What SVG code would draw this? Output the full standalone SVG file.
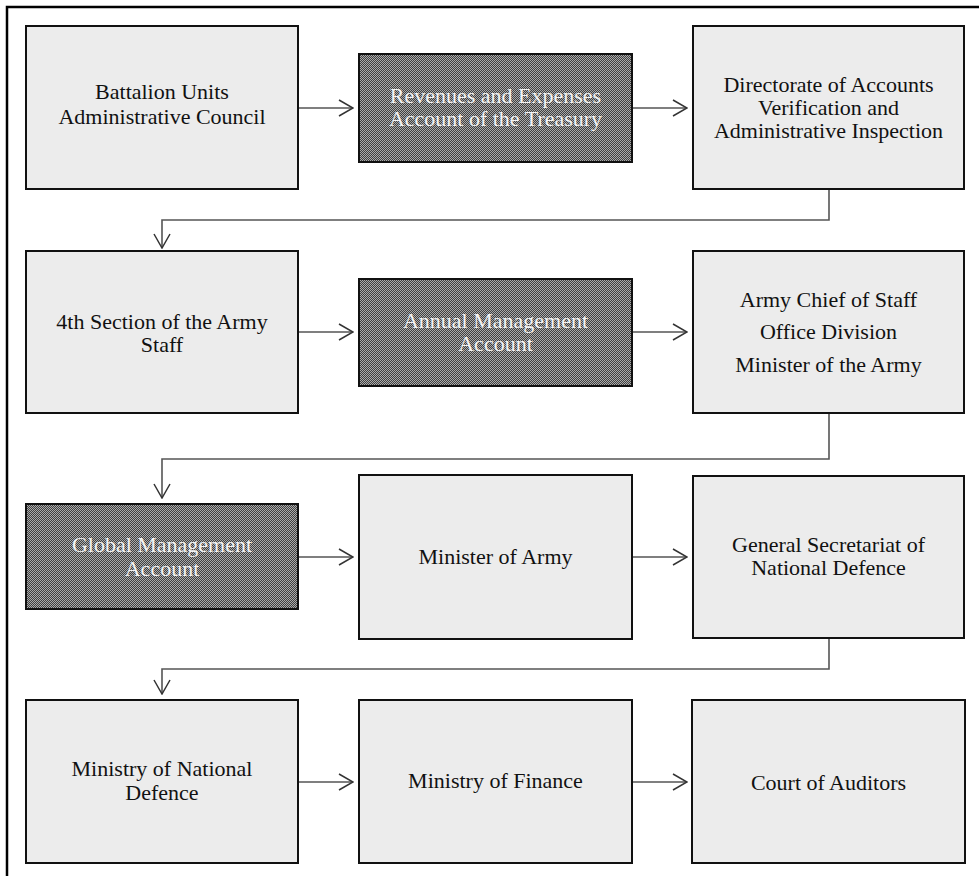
<svg xmlns="http://www.w3.org/2000/svg" width="979" height="876" viewBox="0 0 979 876">
<style>
.box{fill:#ececec;stroke:#111;stroke-width:2}
.dark{fill:url(#chk);stroke:#111;stroke-width:2}
.t{font-family:"Liberation Serif","Times New Roman",serif;font-size:22px;fill:#111;text-anchor:middle}
.tw{font-family:"Liberation Serif","Times New Roman",serif;font-size:22px;fill:#f4f4f4;text-anchor:middle}
.c{fill:none;stroke:#555;stroke-width:1.6}
</style>
<defs>
<pattern id="chk" width="2" height="2" patternUnits="userSpaceOnUse">
<rect width="2" height="2" fill="#404040"/>
<rect width="1" height="1" fill="#aaaaaa"/>
<rect x="1" y="1" width="1" height="1" fill="#aaaaaa"/>
</pattern>
<marker id="arr" viewBox="0 0 16 18" refX="15" refY="9" markerWidth="16" markerHeight="18" markerUnits="userSpaceOnUse" orient="auto">
<path d="M1,1 L15,9 L1,17" fill="none" stroke="#333" stroke-width="1.5"/>
</marker>
</defs>
<rect width="979" height="876" fill="#fff"/>
<path d="M7,876 V7 H979" fill="none" stroke="#000" stroke-width="2.5"/>

<g id="connectors">
<path class="c" d="M298,108 H353" marker-end="url(#arr)"/>
<path class="c" d="M632,108 H687" marker-end="url(#arr)"/>
<path class="c" d="M829,189 V220 H162 V248" marker-end="url(#arr)"/>
<path class="c" d="M298,332 H353" marker-end="url(#arr)"/>
<path class="c" d="M632,332 H687" marker-end="url(#arr)"/>
<path class="c" d="M829,413 V459 H162 V498" marker-end="url(#arr)"/>
<path class="c" d="M298,557 H353" marker-end="url(#arr)"/>
<path class="c" d="M632,557 H687" marker-end="url(#arr)"/>
<path class="c" d="M829,638 V669 H162 V694" marker-end="url(#arr)"/>
<path class="c" d="M298,782 H353" marker-end="url(#arr)"/>
<path class="c" d="M632,782 H687" marker-end="url(#arr)"/>
</g>

<g id="battalion">
<rect class="box" x="26" y="26" width="272" height="163"/>
<text class="t" x="162" y="99">Battalion Units</text>
<text class="t" x="162" y="124">Administrative Council</text>
</g>
<g id="revenues">
<rect class="dark" x="359" y="54" width="273" height="108"/>
<text class="tw" x="495.5" y="103">Revenues and Expenses</text>
<text class="tw" x="495.5" y="126">Account of the Treasury</text>
</g>
<g id="directorate">
<rect class="box" x="693" y="26" width="271" height="163"/>
<text class="t" x="828.5" y="92">Directorate of Accounts</text>
<text class="t" x="828.5" y="115">Verification and</text>
<text class="t" x="828.5" y="138">Administrative Inspection</text>
</g>

<g id="section4">
<rect class="box" x="26" y="251" width="272" height="162"/>
<text class="t" x="162" y="329">4th Section of the Army</text>
<text class="t" x="162" y="352">Staff</text>
</g>
<g id="annual">
<rect class="dark" x="359" y="279" width="273" height="107"/>
<text class="tw" x="495.5" y="328">Annual Management</text>
<text class="tw" x="495.5" y="351">Account</text>
</g>
<g id="chief">
<rect class="box" x="693" y="251" width="271" height="162"/>
<text class="t" x="828.5" y="307">Army Chief of Staff</text>
<text class="t" x="828.5" y="339">Office Division</text>
<text class="t" x="828.5" y="372">Minister of the Army</text>
</g>

<g id="global">
<rect class="dark" x="26" y="504" width="272" height="105"/>
<text class="tw" x="162" y="552">Global Management</text>
<text class="tw" x="162" y="576">Account</text>
</g>
<g id="minister">
<rect class="box" x="359" y="475" width="273" height="164"/>
<text class="t" x="495.5" y="564">Minister of Army</text>
</g>
<g id="secretariat">
<rect class="box" x="693" y="476" width="271" height="162"/>
<text class="t" x="828.5" y="552">General Secretariat of</text>
<text class="t" x="828.5" y="575">National Defence</text>
</g>

<g id="mnd">
<rect class="box" x="26" y="700" width="272" height="163"/>
<text class="t" x="162" y="776">Ministry of National</text>
<text class="t" x="162" y="800">Defence</text>
</g>
<g id="finance">
<rect class="box" x="359" y="700" width="273" height="163"/>
<text class="t" x="495.5" y="788">Ministry of Finance</text>
</g>
<g id="court">
<rect class="box" x="692" y="700" width="273" height="163"/>
<text class="t" x="828.5" y="790">Court of Auditors</text>
</g>
</svg>
